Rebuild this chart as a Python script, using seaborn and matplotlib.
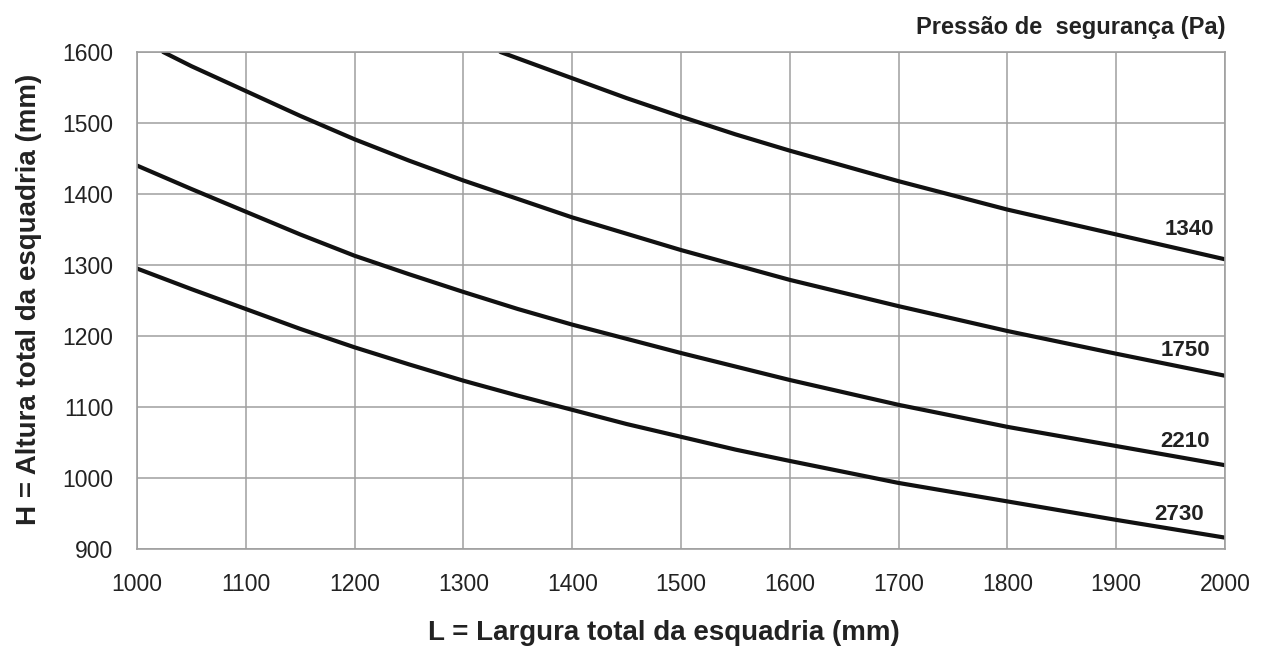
import pandas as pd
import matplotlib
matplotlib.use("Agg")
import matplotlib.pyplot as plt
import seaborn as sns

# Largura L (mm) where the curves were read (finer steps on the left, where they bend more)
largura = [1000, 1050, 1100, 1150, 1200, 1250, 1300, 1350, 1400, 1450,
           1500, 1550, 1600, 1700, 1800, 1900, 2000]

# Altura H (mm) per safety pressure
h_2730 = [1295, 1266, 1238, 1210, 1184, 1160, 1137, 1116, 1096, 1076,
          1058, 1040, 1024, 993, 967, 941, 916]
h_2210 = [1440, 1407, 1375, 1343, 1313, 1287, 1262, 1238, 1216, 1196,
          1176, 1157, 1138, 1103, 1072, 1045, 1018]
# the two upper curves leave the top of the chart
l_1750 = [1024, 1050, 1100, 1150, 1200, 1250, 1300, 1350, 1400, 1450,
          1500, 1550, 1600, 1700, 1800, 1900, 2000]
h_1750 = [1600, 1580, 1545, 1510, 1477, 1447, 1419, 1393, 1367, 1344,
          1321, 1300, 1279, 1242, 1207, 1175, 1144]
l_1340 = [1334, 1350, 1400, 1450, 1500, 1550, 1600, 1700, 1800, 1900, 2000]
h_1340 = [1600, 1591, 1563, 1535, 1509, 1484, 1461, 1418, 1378, 1343, 1308]

pressoes = ["1340", "1750", "2210", "2730"]
label_x = [1990, 1986, 1986, 1981]
label_y = [1350, 1180, 1052, 948]

x_ticks = [1000, 1100, 1200, 1300, 1400, 1500, 1600, 1700, 1800, 1900, 2000]
y_ticks = [900, 1000, 1100, 1200, 1300, 1400, 1500, 1600]

df = pd.concat([
    pd.DataFrame({"L": l_1340, "H": h_1340, "p": "1340"}),
    pd.DataFrame({"L": l_1750, "H": h_1750, "p": "1750"}),
    pd.DataFrame({"L": largura, "H": h_2210, "p": "2210"}),
    pd.DataFrame({"L": largura, "H": h_2730, "p": "2730"}),
])

sns.set_theme(style="whitegrid")
plt.rcParams["font.family"] = ["Liberation Sans", "DejaVu Sans"]

fig = plt.figure(figsize=(12.71, 6.48), dpi=100)
ax = fig.add_axes([0.1078, 0.1528, 0.856, 0.767])

sns.lineplot(data=df, x="L", y="H", hue="p", palette=["#111111"] * 4,
             linewidth=3.0, legend=False, ax=ax, sort=False)

for p, tx, ty in zip(pressoes, label_x, label_y):
    ax.text(tx, ty, p, ha="right", va="center", fontsize=16,
            fontweight="bold", color="#222222")

ax.set_xlim(1000, 2000)
ax.set_ylim(900, 1600)
ax.set_xticks(x_ticks)
ax.set_yticks(y_ticks)
ax.grid(True, color="#9f9f9f", linewidth=1.1)
for s in ax.spines.values():
    s.set_color("#9f9f9f")
    s.set_linewidth(1.2)
ax.tick_params(axis="both", labelsize=16.5, colors="#222222", length=0)
ax.tick_params(axis="x", pad=17)
ax.tick_params(axis="y", pad=17)

ax.set_xlabel("L = Largura total da esquadria (mm)", fontsize=20,
              fontweight="bold", color="#222222")
ax.set_ylabel("H = Altura total da esquadria (mm)", fontsize=20,
              fontweight="bold", color="#222222")
ax.xaxis.set_label_coords(0.484, -0.143)
ax.yaxis.set_label_coords(-0.087, 0.503)
fig.text(0.964, 0.958, "Pressão de  segurança (Pa)", ha="right", va="center",
         fontsize=17, fontweight="bold", color="#222222")

plt.savefig("out.png", dpi=100)
plt.close()
